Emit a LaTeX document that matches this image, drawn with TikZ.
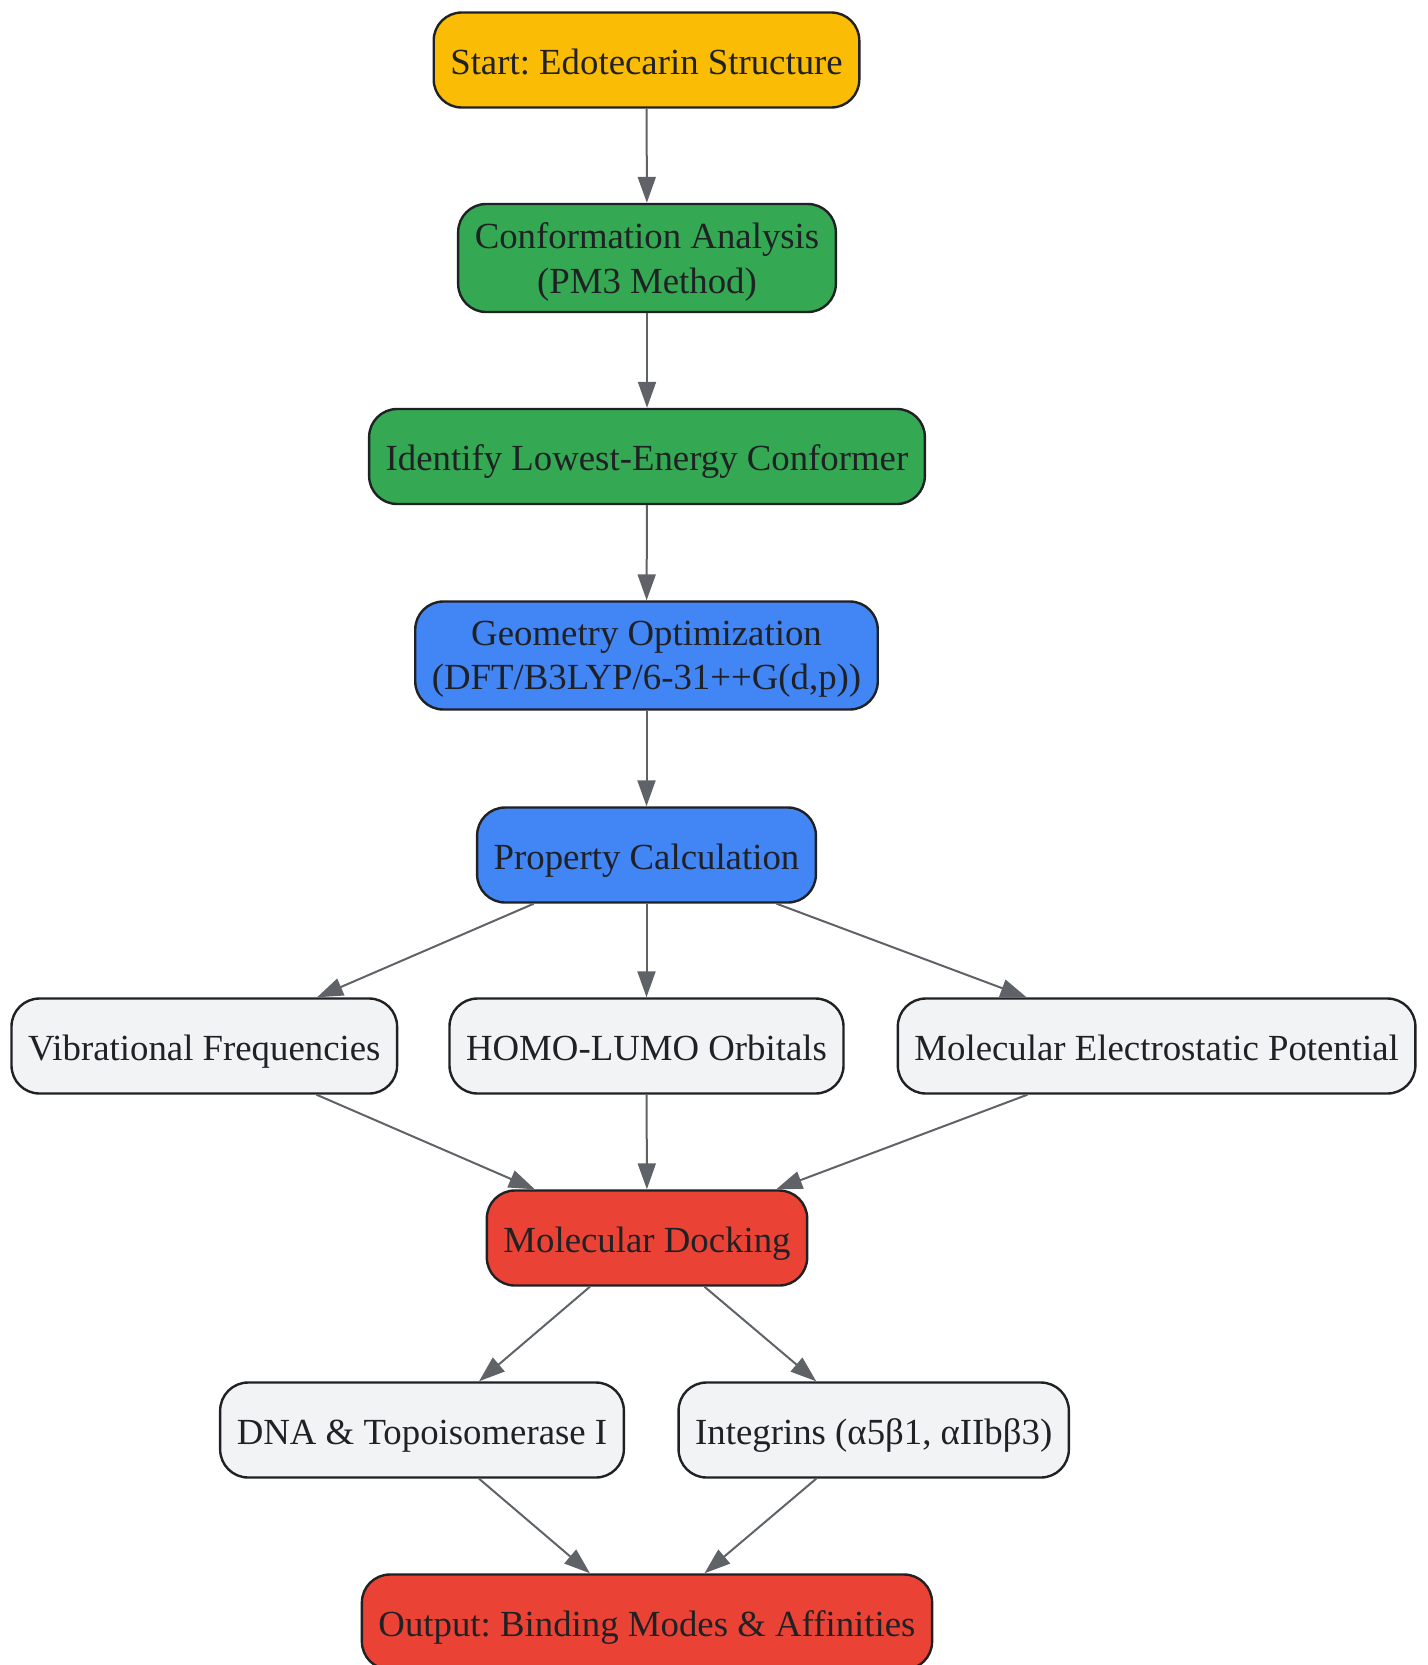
\documentclass[tikz,border=0pt]{standalone}
\usepackage{fontspec}
\setmainfont{Liberation Serif}
\usetikzlibrary{arrows.meta}
\frenchspacing
\definecolor{startColor}{RGB}{251, 188, 5}
\definecolor{conformColor}{RGB}{52, 168, 83}
\definecolor{dftColor}{RGB}{66, 133, 244}
\definecolor{dockColor}{RGB}{234, 67, 53}
\definecolor{propColor}{RGB}{241, 243, 244}
\definecolor{edgeColor}{RGB}{95, 99, 104}
\definecolor{inkColor}{RGB}{32, 33, 36}

\begin{document}
\begin{tikzpicture}[x=0.5pt, y=-0.5pt,
    box/.style={draw=inkColor, line width=1.2pt, rounded corners=14pt, text=inkColor,
        font=\fontsize{18.4}{22.3}\selectfont, align=center,
        inner xsep=8.3pt, inner ysep=3pt, minimum height=47.5pt,
        text height=14pt, text depth=0pt},
    tallbox/.style={box, minimum height=54pt, text height=, text depth=0pt},
    flow/.style={draw=edgeColor, line width=1pt, -{Triangle[length=13pt, width=9pt]}}]
    \useasboundingbox (0,0) rectangle (1428,1665);

    % Preparation of the structure
    \node[box, fill=startColor] (start) at (646.5,60) {Start: Edotecarin Structure};
    \node[tallbox, fill=conformColor] (conf) at (647,258) {Conformation Analysis\\(PM3 Method)};
    \node[box, fill=conformColor] (lowest) at (647,456.5) {Identify Lowest-Energy Conformer};

    % DFT part
    \node[tallbox, fill=dftColor] (geom) at (646.5,655.5) {Geometry Optimization\\(DFT/B3LYP/6-31++G(d,p))};
    \node[box, fill=dftColor] (prop) at (646.5,855) {Property Calculation};

    % Computed properties
    \node[box, fill=propColor] (vib) at (204.3,1046) {Vibrational Frequencies};
    \node[box, fill=propColor] (homo) at (646.5,1046) {HOMO-LUMO Orbitals};
    \node[box, fill=propColor] (mep) at (1156.6,1046) {Molecular Electrostatic Potential};

    % Docking and targets
    \node[box, fill=dockColor] (dock) at (647,1238) {Molecular Docking};
    \node[box, fill=propColor] (dna) at (422,1430) {DNA \& Topoisomerase I};
    \node[box, fill=propColor] (integ) at (873.7,1430) {Integrins (α5β1, αIIbβ3)};
    \node[box, fill=dockColor] (out) at (647,1622) {Output: Binding Modes \& Affinities};

    % Connections
    \draw[flow] (start) -- (conf);
    \draw[flow] (conf) -- (lowest);
    \draw[flow] (lowest) -- (geom);
    \draw[flow] (geom) -- (prop);
    \draw[flow] (prop) -- (vib);
    \draw[flow] (prop) -- (homo);
    \draw[flow] (prop) -- (mep);
    \draw[flow] (vib) -- (dock);
    \draw[flow] (homo) -- (dock);
    \draw[flow] (mep) -- (dock);
    \draw[flow] (dock) -- (dna);
    \draw[flow] (dock) -- (integ);
    \draw[flow] (dna) -- (out);
    \draw[flow] (integ) -- (out);
\end{tikzpicture}
\end{document}
